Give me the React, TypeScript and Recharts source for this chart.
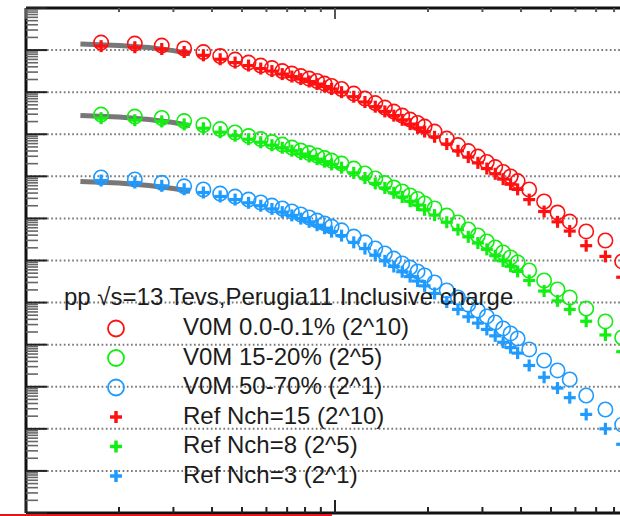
import { ScatterChart, Scatter, XAxis, YAxis, ReferenceLine } from 'recharts'

// pT bin centres (GeV/c)
const ptBins = [
  0.175, 0.225, 0.275, 0.325, 0.375, 0.425, 0.475, 0.525, 0.575, 0.625, 0.675, 0.725, 0.775, 0.825, 0.875, 0.925, 0.975,
  1.05, 1.15, 1.25, 1.35, 1.45, 1.55, 1.65, 1.75, 1.85, 1.95,
  2.1, 2.3, 2.5, 2.7, 2.9, 3.1, 3.3, 3.5, 3.7, 3.9,
  4.25, 4.75, 5.25, 5.75,
  6.5, 7.5,
  8.5,
]

// V0M classes, already scaled by 2^10, 2^5, 2^1
const v0mTop = [
  15.1, 14.3, 12.8, 10.9, 8.96, 7.2, 5.94, 5.05, 4.28, 3.73, 3.17, 2.77, 2.41, 2.1, 1.84, 1.6, 1.4,
  1.19, 0.927, 0.705, 0.551, 0.431, 0.346, 0.278, 0.223, 0.185, 0.152,
  0.116, 0.079, 0.0554, 0.0399, 0.0295, 0.0219, 0.0166, 0.0127, 9.9e-3, 7.7e-3,
  4.86e-3, 2.52e-3, 1.38e-3, 8.4e-4,
  4.9e-4, 2.99e-4,
  9.5e-5,
]
const v0mMid = [
  0.294, 0.263, 0.243, 0.206, 0.166, 0.133, 0.11, 0.0906, 0.0769, 0.0653, 0.0569, 0.0483, 0.041, 0.0357, 0.0312, 0.0272, 0.0237,
  0.0201, 0.0153, 0.0117, 8.87e-3, 6.93e-3, 5.42e-3, 4.36e-3, 3.5e-3, 2.89e-3, 2.26e-3,
  1.72e-3, 1.17e-3, 8.0e-4, 5.45e-4, 3.93e-4, 2.83e-4, 2.04e-4, 1.55e-4, 1.18e-4, 8.96e-5,
  5.78e-5, 3.35e-5, 2.05e-5, 1.32e-5,
  7.2e-6, 3.56e-6,
  1.48e-6,
]
const v0mLow = [
  9.37e-3, 8.4e-3, 7.0e-3, 5.8e-3, 4.86e-3, 3.9e-3, 3.3e-3, 2.8e-3, 2.39e-3, 2.02e-3, 1.72e-3, 1.46e-3, 1.24e-3, 1.05e-3, 8.9e-4, 7.6e-4, 6.4e-4,
  5.2e-4, 3.7e-4, 2.7e-4, 1.93e-4, 1.47e-4, 1.11e-4, 8.5e-5, 6.8e-5, 5.5e-5, 4.4e-5,
  3.0e-5, 1.94e-5, 1.32e-5, 9.0e-6, 6.5e-6, 4.68e-6, 3.37e-6, 2.43e-6, 1.85e-6, 1.4e-6,
  7.7e-7, 4.2e-7, 2.44e-7, 1.49e-7,
  6.2e-8, 2.88e-8,
  1.26e-8,
]

// reference Nch classes, same scaling
const refNch15 = [
  12.4, 11.7, 10.6, 9.0, 7.5, 6.05, 5.05, 4.29, 3.64, 3.17, 2.69, 2.35, 2.05, 1.79, 1.56, 1.36, 1.19,
  1.0, 0.78, 0.585, 0.452, 0.349, 0.277, 0.22, 0.174, 0.142, 0.116,
  0.087, 0.0585, 0.0404, 0.0287, 0.0209, 0.0153, 0.0115, 8.6e-3, 6.5e-3, 4.9e-3,
  2.8e-3, 1.46e-3, 8.3e-4, 5.0e-4,
  2.25e-4, 1.25e-4,
  4.0e-5,
]
const refNch8 = [
  0.241, 0.216, 0.202, 0.171, 0.139, 0.112, 0.0924, 0.0761, 0.0646, 0.0549, 0.0478, 0.0406, 0.034, 0.0296, 0.0256, 0.0223, 0.0192,
  0.0161, 0.0121, 9.1e-3, 6.8e-3, 5.3e-3, 4.07e-3, 3.23e-3, 2.56e-3, 2.08e-3, 1.6e-3,
  1.2e-3, 8.1e-4, 5.4e-4, 3.65e-4, 2.6e-4, 1.84e-4, 1.3e-4, 9.8e-5, 7.3e-5, 5.5e-5,
  3.35e-5, 1.88e-5, 1.1e-5, 6.9e-6,
  3.6e-6, 1.7e-6,
  6.8e-7,
]
const refNch3 = [
  7.96e-3, 7.14e-3, 5.95e-3, 4.93e-3, 4.13e-3, 3.32e-3, 2.8e-3, 2.35e-3, 2.0e-3, 1.68e-3, 1.41e-3, 1.18e-3, 9.9e-4, 8.3e-4, 6.9e-4, 5.85e-4, 4.86e-4,
  3.9e-4, 2.7e-4, 1.92e-4, 1.33e-4, 9.8e-5, 7.2e-5, 5.4e-5, 4.15e-5, 3.25e-5, 2.5e-5,
  1.65e-5, 1.03e-5, 6.9e-6, 4.6e-6, 3.25e-6, 2.3e-6, 1.62e-6, 1.14e-6, 8.5e-7, 6.3e-7,
  3.2e-7, 1.68e-7, 9.3e-8, 5.5e-8,
  2.2e-8, 1.0e-8,
  4.3e-9,
]

// grey fit curves at low pT
const fitPt = [0.15, 0.2, 0.25, 0.3, 0.34]
const fitTop = [13.9, 12.8, 11.5, 9.7, 8.2]
const fitMid = [0.278, 0.256, 0.224, 0.19, 0.16]
const fitLow = [7.5e-3, 6.9e-3, 6.05e-3, 5.13e-3, 4.4e-3]

const legendTitle = 'pp √s=13 Tevs,Perugia11 Inclusive charge'
const legendLabels = [
  'V0M 0.0-0.1% (2^10)',
  'V0M 15-20% (2^5)',
  'V0M 50-70% (2^1)',
  'Ref Nch=15 (2^10)',
  'Ref Nch=8 (2^5)',
  'Ref Nch=3 (2^1)',
]

const RED = '#ff1010'
const GREEN = '#12ee12'
const BLUE = '#1f9bff'

const legendMarkers = [
  { kind: 'ring', color: RED },
  { kind: 'ring', color: GREEN },
  { kind: 'ring', color: BLUE },
  { kind: 'plus', color: RED },
  { kind: 'plus', color: GREEN },
  { kind: 'plus', color: BLUE },
]

const xTicks: number[] = []
for (const d of [0.1, 1]) for (let m = 1; m < 10; m++) xTicks.push(+(m * d).toFixed(2))
xTicks.push(10)

const yTicks: number[] = []
for (let e = -10; e < 2; e++) for (let m = 1; m < 10; m++) yTicks.push(m * Math.pow(10, e))
yTicks.push(100)

const gridDecades: number[] = []
for (let e = -9; e <= 1; e++) gridDecades.push(Math.pow(10, e))

const isMajor = (v: number) => Math.abs(Math.log10(v) - Math.round(Math.log10(v))) < 1e-6

const rows = (ys: number[]) => ptBins.map((pt, i) => ({ pt, y: ys[i] }))
const fitRows = (ys: number[]) => fitPt.map((pt, i) => ({ pt, y: ys[i] }))

const ring = (color: string) => (p: any) => (
  <circle cx={p.cx} cy={p.cy} r={7.2} fill="none" stroke={color} strokeWidth={1.6} />
)
const plus = (color: string) => (p: any) => (
  <g stroke={color} strokeWidth={3.2}>
    <line x1={p.cx - 6} x2={p.cx + 6} y1={p.cy} y2={p.cy} />
    <line x1={p.cx} x2={p.cx} y1={p.cy - 6} y2={p.cy + 6} />
  </g>
)
const noDot = () => <g />

// ticks point into the frame
const bottomTick = (p: any) => {
  const len = isMajor(p.payload.value) ? 13 : 6
  return <line x1={p.x} x2={p.x} y1={p.y} y2={p.y - len} stroke="#222" strokeWidth={2} />
}
const topTick = (p: any) => {
  const len = isMajor(p.payload.value) ? 11 : 4
  return <line x1={p.x} x2={p.x} y1={p.y} y2={p.y + len} stroke="#555" strokeWidth={2} />
}
const leftTick = (p: any) => {
  const major = isMajor(p.payload.value)
  return (
    <line x1={p.x} x2={p.x + (major ? 21 : 12)} y1={p.y} y2={p.y}
      stroke={major ? '#222' : '#666'} strokeWidth={major ? 2 : 1.6} />
  )
}

function Legend() {
  return (
    <svg width={620} height={516} style={{ position: 'absolute', left: 0, top: 0, pointerEvents: 'none' }}>
      <g fontFamily="'Liberation Sans', Arial, sans-serif" fontSize={24} fill="#1c1c1c">
        <text x={64} y={305}>{legendTitle}</text>
        {legendLabels.map((label, i) => {
          const cy = 328.5 + i * 29.5
          const m = legendMarkers[i]
          return (
            <g key={label}>
              {m.kind === 'ring' ? (
                <circle cx={116} cy={cy} r={8} fill="none" stroke={m.color} strokeWidth={1.8} />
              ) : (
                <g stroke={m.color} strokeWidth={3.5}>
                  <line x1={110} x2={122} y1={cy} y2={cy} />
                  <line x1={116} x2={116} y1={cy - 6} y2={cy + 6} />
                </g>
              )}
              <text x={183} y={335 + i * 29.5}>{label}</text>
            </g>
          )
        })}
      </g>
    </svg>
  )
}

export default function App() {
  return (
    <div style={{ position: 'relative', width: 620, height: 516, overflow: 'hidden', background: '#fff' }}>
      <style>{'html,body{margin:0;overflow:hidden;background:#fff}'}</style>
      <ScatterChart width={660} height={516} margin={{ top: 7, right: 16, bottom: 2, left: 25 }}>
        <XAxis dataKey="pt" type="number" scale="log" domain={[0.1, 10]} allowDataOverflow
          ticks={xTicks} interval={0} height={1} tickSize={0} tickMargin={0} tickLine={false}
          axisLine={{ stroke: '#111', strokeWidth: 3 }} tick={bottomTick} />
        <XAxis xAxisId="top" orientation="top" dataKey="pt" type="number" scale="log" domain={[0.1, 10]} allowDataOverflow
          ticks={xTicks} interval={0} height={1} tickSize={0} tickMargin={0} tickLine={false}
          axisLine={{ stroke: '#111', strokeWidth: 3 }} tick={topTick} />
        <YAxis dataKey="y" type="number" scale="log" domain={[1e-10, 100]} allowDataOverflow
          ticks={yTicks} interval={0} width={1} tickSize={0} tickMargin={0} tickLine={false}
          axisLine={{ stroke: '#111', strokeWidth: 3 }} tick={leftTick} />

        {gridDecades.map((v) => (
          <ReferenceLine key={v} y={v} stroke="#7a7a7a" strokeWidth={2} strokeDasharray="1.7 2.5" />
        ))}

        <Scatter data={fitRows(fitTop)} line={{ stroke: '#777', strokeWidth: 5 }} shape={noDot} isAnimationActive={false} />
        <Scatter data={fitRows(fitMid)} line={{ stroke: '#777', strokeWidth: 5 }} shape={noDot} isAnimationActive={false} />
        <Scatter data={fitRows(fitLow)} line={{ stroke: '#777', strokeWidth: 5 }} shape={noDot} isAnimationActive={false} />

        <Scatter data={rows(v0mTop)} shape={ring(RED)} isAnimationActive={false} />
        <Scatter data={rows(v0mMid)} shape={ring(GREEN)} isAnimationActive={false} />
        <Scatter data={rows(v0mLow)} shape={ring(BLUE)} isAnimationActive={false} />
        <Scatter data={rows(refNch15)} shape={plus(RED)} isAnimationActive={false} />
        <Scatter data={rows(refNch8)} shape={plus(GREEN)} isAnimationActive={false} />
        <Scatter data={rows(refNch3)} shape={plus(BLUE)} isAnimationActive={false} />
      </ScatterChart>
      <Legend />
      <div style={{ position: 'absolute', left: 0, top: 514, width: 332, height: 2, background: '#e8141b' }} />
    </div>
  )
}
